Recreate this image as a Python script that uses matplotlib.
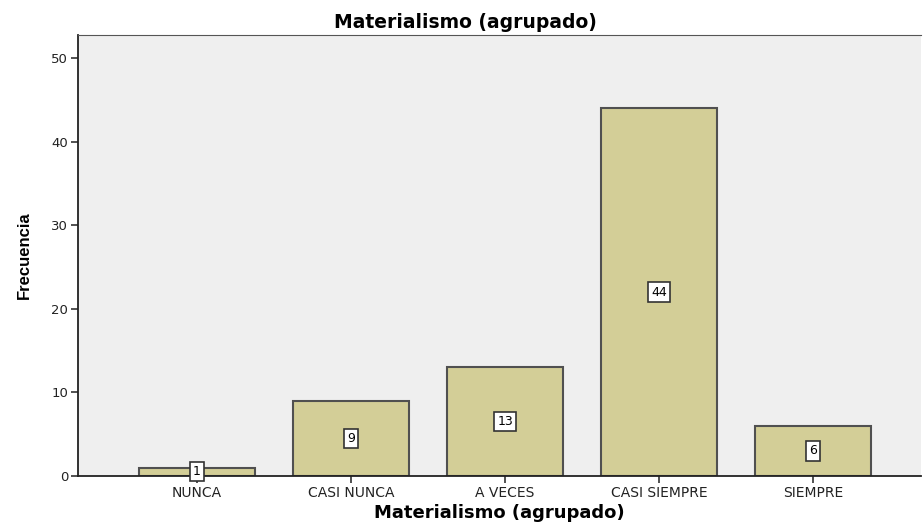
import matplotlib
matplotlib.use("Agg")
import matplotlib.pyplot as plt

categories = ["NUNCA", "CASI NUNCA", "A VECES", "CASI SIEMPRE", "SIEMPRE"]
values = [1, 9, 13, 44, 6]
yticks = [0, 10, 20, 30, 40, 50]

plt.rcParams['font.family'] = ['DejaVu Sans']

fig = plt.figure(figsize=(9.23, 5.24), dpi=100)
ax = fig.add_axes([78/923, 48/524, (921-78)/923, (476-35)/524])
ax.set_facecolor('#EFEFEF')
x = list(range(len(categories)))
ax.bar(x, values, width=0.75, color='#D3CE97', edgecolor='#505050', linewidth=1.5, zorder=2)
for xi, v in zip(x, values):
    ax.text(xi, v/2, str(v), ha='center', va='center', fontsize=9, zorder=4,
            bbox=dict(boxstyle='square,pad=0.25', facecolor='white', edgecolor='#333333', linewidth=1.2))
ax.set_xlim(-0.773, 4.70)
ax.set_ylim(0, 52.75)
ax.set_xticks(x)
ax.set_xticklabels(categories, fontsize=10, color='#222222')
ax.set_yticks(yticks)
ax.set_yticklabels([str(t) for t in yticks], fontsize=9.5, color='#222222')
ax.tick_params(axis='both', direction='out', length=5, width=1.2, color='#333333', pad=2)
for s in ['left', 'bottom']:
    ax.spines[s].set_color('#222222')
    ax.spines[s].set_linewidth(1.3)
ax.spines['top'].set_color('#555555')
ax.spines['right'].set_visible(False)
ax.set_title('Materialismo (agrupado)', fontsize=13.5, fontweight='bold', pad=5, x=0.46)
ax.set_xlabel('Materialismo (agrupado)', fontsize=13, fontweight='bold', labelpad=3)
ax.set_ylabel('Frecuencia', fontsize=12, fontweight='bold', family=['Liberation Sans', 'DejaVu Sans'], labelpad=14)
fig.savefig('out.png', dpi=100)
